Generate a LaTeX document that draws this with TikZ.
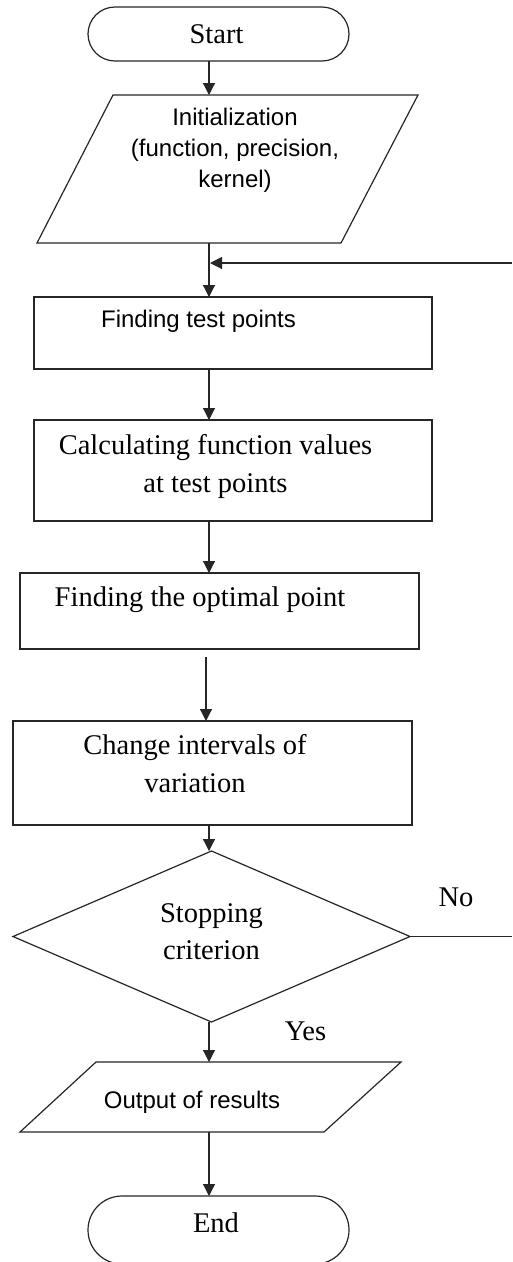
\documentclass[tikz,border=0pt]{standalone}
\usepackage{fontspec}
\setmainfont{Liberation Serif}
\setsansfont{Liberation Sans}
\usetikzlibrary{arrows.meta,shapes.geometric}
\begin{document}
\begin{tikzpicture}[x=1pt,y=-1pt,
  every node/.style={inner sep=0pt,outer sep=0pt},
  ln/.style={line width=1.2pt,draw=black!85},
  arr/.style={ln,-{Triangle[length=12pt,width=12pt]}},
  frame/.style={ln,draw},
  ghost/.style={draw=none},
  serif/.style={font=\fontsize{28.5}{38}\selectfont\rmfamily,align=center},
  sans/.style={font=\fontsize{24}{31}\selectfont\sffamily,align=center}]
\useasboundingbox (0,0) rectangle (512,1262);
\clip (0,0) rectangle (512,1262);
\fill[white] (0,0) rectangle (512,1262);

% shapes
\node[frame,rounded corners=27pt,minimum width=261pt,minimum height=54pt] (start) at (218.5,34) {};
\node[ghost,minimum width=381pt,minimum height=148pt] (init) at (227.5,169) {};
\draw[ln] ([xshift=76pt]init.north west) -- (init.north east) -- ([xshift=-77pt]init.south east) -- (init.south west) -- cycle;
\node[frame,minimum width=398pt,minimum height=72pt] (test) at (233,333) {};
\node[frame,minimum width=398pt,minimum height=101pt] (calc) at (233,470.5) {};
\node[frame,minimum width=399pt,minimum height=76pt] (opt) at (219.5,611) {};
\node[frame,minimum width=399pt,minimum height=104pt] (chg) at (212.5,773) {};
\node[frame,diamond,minimum width=397pt,minimum height=171pt] (dec) at (211.5,936.5) {};
\node[ghost,minimum width=381pt,minimum height=70pt] (out) at (210.5,1097) {};
\draw[ln] ([xshift=76pt]out.north west) -- (out.north east) -- ([xshift=-77pt]out.south east) -- (out.south west) -- cycle;
\node[frame,rounded corners=34pt,minimum width=261pt,minimum height=68pt] (end) at (218.5,1230) {};

% texts
\node[serif] (startT) at (216.5,34) {Start};
\node[sans] (initT) at (235,150.5) {Initialization\\(function, precision,\\kernel)};
\node[sans] (testT) at (198.5,321) {Finding test points};
\node[serif] (calcT) at (215.5,466) {Calculating function values\\at test points};
\node[serif] (optT) at (200,600) {Finding the optimal point};
\node[serif] (chgT) at (195,764) {Change intervals of\\variation};
\node[serif,font=\fontsize{28.5}{37}\selectfont\rmfamily] (decT) at (211.5,932) {Stopping\\criterion};
\node[serif] (noT) at (456,897) {No};
\node[serif] (yesT) at (305.5,1031) {Yes};
\node[sans] (outT) at (192,1102.5) {Output of results};
\node[serif] (endT) at (216,1222.5) {End};

% connectors
\coordinate (ax) at (209,0);
\coordinate (ax2) at (206,0);
\coordinate (fbstart) at (512,263);
\coordinate (fbjoin) at (210,263);
\coordinate (noend) at (512,936.5);
\draw[arr] (start.south -| ax) -- (init.north -| ax);
\draw[arr] (init.south -| ax) -- (test.north -| ax);
\draw[arr] (fbstart) -- (fbjoin);
\draw[arr] (test.south -| ax) -- (calc.north -| ax);
\draw[arr] (calc.south -| ax) -- (opt.north -| ax);
\draw[arr] ([yshift=-8pt]opt.south -| ax2) -- (chg.north -| ax2);
\draw[arr] (chg.south -| ax) -- (dec.north -| ax);
\draw[ln] (dec.east) -- (noend);
\draw[arr] (dec.south -| ax) -- (out.north -| ax);
\draw[arr] (out.south -| ax) -- (end.north -| ax);
\end{tikzpicture}
\end{document}
